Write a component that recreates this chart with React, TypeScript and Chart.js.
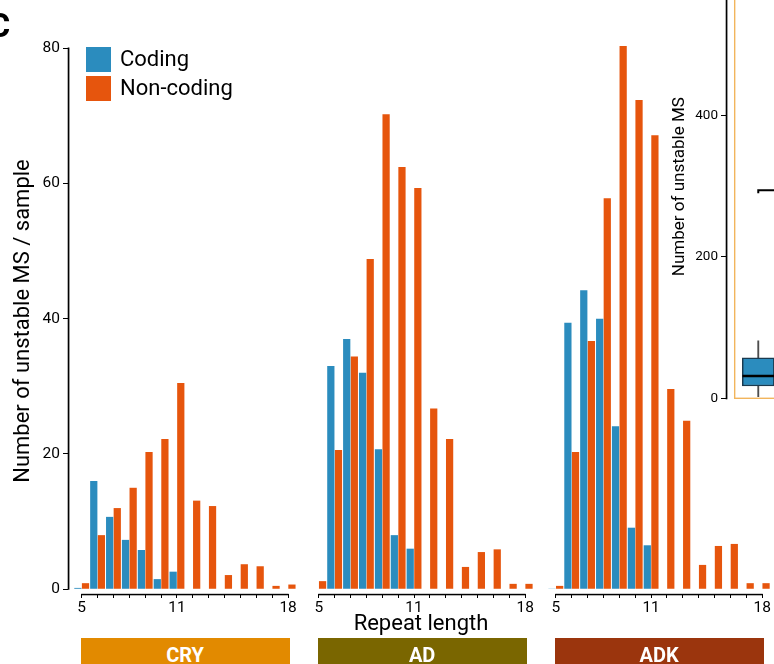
import React, { useEffect, useRef, useState } from 'react';
import { Chart, registerables } from 'chart.js';

Chart.register(...registerables);

// ---------------- data ----------------
const repeatLengths = [5, 6, 7, 8, 9, 10, 11, 12, 13, 14, 15, 16, 17, 18];
const labeledLengths = [5, 11, 18];
const panelNames = ['CRY', 'AD', 'ADK'];
const panelColors = ['#E28A00', '#7A6600', '#9B350D'];

const cryCoding = [0.2, 16.0, 10.7, 7.3, 5.8, 1.5, 2.6, 0, 0, 0, 0, 0, 0, 0];
const cryNonCoding = [0.9, 8.0, 12.0, 15.0, 20.3, 22.2, 30.5, 13.1, 12.3, 2.1, 3.7, 3.4, 0.5, 0.7];
const adCoding = [0, 33.0, 37.0, 32.0, 20.7, 8.0, 6.0, 0, 0, 0, 0, 0, 0, 0];
const adNonCoding = [1.2, 20.6, 34.4, 48.8, 70.2, 62.4, 59.3, 26.7, 22.2, 3.3, 5.5, 5.9, 0.8, 0.8];
const adkCoding = [0.1, 39.4, 44.2, 40.0, 24.1, 9.1, 6.5, 0, 0, 0, 0, 0, 0, 0];
const adkNonCoding = [0.5, 20.3, 36.7, 57.8, 80.3, 72.3, 67.1, 29.6, 24.9, 3.6, 6.4, 6.7, 0.9, 0.9];

const yTickValues = [0, 20, 40, 60, 80];

// inset (box plot of total unstable MS, first group visible)
const insetTickValues = [0, 200, 400];
const insetBoxCRY = [2.3, 17.4, 31.5, 57.0, 81.3]; // min, q1, median, q3, max
const insetBracketY = [289.6, 294];

// ---------------- style / layout ----------------
const W = 774;
const H = 664;
const FONT = 'Roboto, "Noto Sans", Arial, sans-serif';
const BLUE = '#2B8CBE';
const ORANGE = '#E6550D';
const PANEL_SPAN = 14.93;
const X_MIN = 4.137;
const X_MAX = 48.6;
const Y_MIN = -0.7;
const Y_MAX = 80;
const AXIS_W = 1.7;

const codingByPanel = [cryCoding, adCoding, adkCoding];
const nonCodingByPanel = [cryNonCoding, adNonCoding, adkNonCoding];

const toPoints = (byPanel: number[][]) =>
  byPanel.flatMap((vals, p) => vals.map((v, i) => ({ x: repeatLengths[i] + p * PANEL_SPAN, y: v })));

const panelTickValues = panelNames.flatMap((_, p) => repeatLengths.map((r) => r + p * PANEL_SPAN));

const panelOf = (v: number) => Math.floor((v - (repeatLengths[0] - 0.5)) / PANEL_SPAN);

const axisLinesPlugin = {
  id: 'axisLines',
  afterDraw(chart: any) {
    const { ctx, chartArea, scales } = chart;
    const x = scales.x;
    const y = scales.y;
    ctx.save();
    ctx.fillStyle = '#000';
    // y axis line (from 0 to 80 only)
    const ax = Math.round(chartArea.left);
    const y0 = y.getPixelForValue(yTickValues[0]);
    const y1 = y.getPixelForValue(yTickValues[yTickValues.length - 1]);
    ctx.fillRect(ax - 0.3, y1 - 0.5, AXIS_W, y0 - y1 + 1);
    // x axis segments (one per panel)
    const by = Math.round(chartArea.bottom);
    panelNames.forEach((_, p) => {
      const a = x.getPixelForValue(repeatLengths[0] + p * PANEL_SPAN) - 0.5;
      const b = x.getPixelForValue(repeatLengths[repeatLengths.length - 1] + p * PANEL_SPAN) + 0.5;
      ctx.fillRect(a, by - 0.2, b - a, 1.5);
    });
    ctx.restore();
  },
};

const insetPanelPlugin = {
  id: 'insetPanel',
  beforeDatasetsDraw(chart: any) {
    const { ctx, chartArea, scales } = chart;
    const x = scales.x;
    const y = scales.y;
    ctx.save();
    ctx.strokeStyle = '#F2B55C';
    ctx.lineWidth = 1.4;
    const l = x.getPixelForValue(0.5);
    const r = x.getPixelForValue(3.5);
    const b = y.getPixelForValue(0);
    ctx.strokeRect(l, chartArea.top - 30, r - l, b - chartArea.top + 30);
    ctx.restore();
  },
  afterDraw(chart: any) {
    const { ctx, chartArea } = chart;
    ctx.save();
    ctx.fillStyle = '#000';
    ctx.fillRect(Math.round(chartArea.left) - 0.3, chartArea.top, AXIS_W, chartArea.bottom - chartArea.top + 1);
    ctx.restore();
  },
};

export default function App() {
  const mainRef = useRef<HTMLCanvasElement | null>(null);
  const insetRef = useRef<HTMLCanvasElement | null>(null);
  const [strips, setStrips] = useState<any[]>([]);

  useEffect(() => {
    if (!mainRef.current || !insetRef.current) return;

    const main = new Chart(mainRef.current, {
      type: 'bar',
      data: {
        datasets: [
          {
            label: 'Coding',
            data: toPoints(codingByPanel),
            backgroundColor: BLUE,
            categoryPercentage: 0.96,
            barPercentage: 0.95,
            clip: false,
          } as any,
          {
            label: 'Non-coding',
            data: toPoints(nonCodingByPanel),
            backgroundColor: ORANGE,
            categoryPercentage: 0.96,
            barPercentage: 0.95,
            clip: false,
          } as any,
        ],
      },
      options: {
        responsive: false,
        animation: false,
        devicePixelRatio: 1,
        layout: { padding: { top: 48, left: 0, right: 0, bottom: 0 } },
        plugins: { legend: { display: false }, tooltip: { enabled: false } },
        scales: {
          x: {
            type: 'linear',
            offset: false,
            min: X_MIN,
            max: X_MAX,
            afterFit: (s: any) => {
              s.height = 70;
            },
            afterBuildTicks: (s: any) => {
              s.ticks = panelTickValues.map((v) => ({ value: v }));
            },
            ticks: {
              autoSkip: false,
              maxRotation: 0,
              minRotation: 0,
              padding: 1,
              color: '#000',
              font: { family: FONT, size: 15.5 },
              callback: (v: any) => {
                const p = panelOf(v);
                const r = Math.round(v - p * PANEL_SPAN);
                return labeledLengths.includes(r) ? String(r) : '';
              },
            },
            grid: {
              display: true,
              offset: false,
              drawOnChartArea: false,
              drawTicks: true,
              tickLength: 4,
              color: '#000',
              tickColor: '#000',
              lineWidth: 1,
            },
            border: { display: false },
            title: {
              display: true,
              text: 'Repeat length',
              color: '#000',
              font: { family: FONT, size: 22 },
              padding: { top: 0, bottom: 26 },
            },
          } as any,
          y: {
            min: Y_MIN,
            max: Y_MAX,
            afterFit: (s: any) => {
              s.width = 68;
            },
            afterBuildTicks: (s: any) => {
              s.ticks = yTickValues.map((v) => ({ value: v }));
            },
            ticks: {
              padding: 3,
              color: '#000',
              font: { family: FONT, size: 15.5 },
              callback: (v: any) => String(v),
            },
            grid: {
              display: true,
              drawOnChartArea: false,
              drawTicks: true,
              tickLength: 5,
              color: '#000',
              tickColor: '#000',
              lineWidth: 1,
            },
            border: { display: false },
            title: {
              display: true,
              text: 'Number of unstable MS / sample',
              color: '#000',
              font: { family: FONT, size: 22 },
              padding: { top: 10, bottom: 0 },
            },
          } as any,
        },
      },
      plugins: [axisLinesPlugin],
    });

    const xs: any = main.scales.x;
    setStrips(
      panelNames.map((name, p) => {
        const a = xs.getPixelForValue(repeatLengths[0] + p * PANEL_SPAN) - 1.2;
        const b = xs.getPixelForValue(repeatLengths[repeatLengths.length - 1] + p * PANEL_SPAN) + 1.5;
        return { name, left: a, width: b - a, color: panelColors[p] };
      })
    );

    const box = insetBoxCRY;
    const inset = new Chart(insetRef.current, {
      type: 'bar',
      data: {
        datasets: [
          {
            label: 'whiskers',
            data: [
              { x: 1, y: [box[0], box[1]] },
              { x: 1, y: [box[3], box[4]] },
            ],
            backgroundColor: '#4d4d4d',
            barThickness: 1.2,
            grouped: false,
            order: 3,
          } as any,
          {
            label: 'box',
            data: [{ x: 1, y: [box[1], box[3]] }],
            backgroundColor: BLUE,
            borderColor: '#1A3A4F',
            borderWidth: 1.5,
            borderSkipped: false,
            barThickness: 32,
            grouped: false,
            order: 2,
          } as any,
          {
            label: 'median',
            data: [{ x: 1, y: [box[2] - 1.4, box[2] + 1.4] }],
            backgroundColor: '#000',
            barThickness: 31,
            grouped: false,
            order: 1,
          } as any,
          {
            type: 'line',
            label: 'bracket',
            data: [
              { x: 1, y: insetBracketY[0] },
              { x: 1, y: insetBracketY[1] },
              { x: 2, y: insetBracketY[1] },
            ],
            borderColor: '#000',
            borderWidth: 2,
            pointRadius: 0,
            order: 0,
          } as any,
        ],
      },
      options: {
        responsive: false,
        animation: false,
        devicePixelRatio: 1,
        layout: { padding: { top: 20, bottom: 11.7, left: 0, right: 0 } },
        plugins: { legend: { display: false }, tooltip: { enabled: false } },
        scales: {
          x: { type: 'linear', display: false, offset: false, grid: { offset: false }, min: 0.316, max: 3.58 } as any,
          y: {
            min: 0,
            max: 598,
            afterFit: (s: any) => {
              s.width = 126;
            },
            afterBuildTicks: (s: any) => {
              s.ticks = insetTickValues.map((v) => ({ value: v }));
            },
            ticks: {
              padding: 3,
              color: '#000',
              font: { family: FONT, size: 13.5 },
              callback: (v: any) => String(v),
            },
            grid: {
              display: true,
              drawOnChartArea: false,
              drawTicks: true,
              tickLength: 5,
              color: '#000',
              tickColor: '#000',
            },
            border: { display: false },
            title: {
              display: true,
              text: 'Number of unstable MS',
              color: '#000',
              font: { family: FONT, size: 17 },
              padding: { top: 70, bottom: 0 },
            },
          } as any,
        },
      },
      plugins: [insetPanelPlugin],
    });

    return () => {
      main.destroy();
      inset.destroy();
    };
  }, []);

  return (
    <div
      style={{
        position: 'fixed',
        left: 0,
        top: 0,
        width: W,
        height: H,
        overflow: 'hidden',
        background: '#fff',
        fontFamily: FONT,
      }}
    >
      <canvas ref={mainRef} width={W} height={H} style={{ position: 'absolute', left: 0, top: 0, width: W, height: H }} />
      <canvas
        ref={insetRef}
        width={280}
        height={455}
        style={{ position: 'absolute', left: 600, top: -45, width: 280, height: 455 }}
      />
      <div
        style={{
          position: 'absolute',
          left: -12,
          top: 7.5,
          fontSize: 34,
          lineHeight: '34px',
          fontWeight: 700,
          color: '#000',
        }}
      >
        C
      </div>
      {[
        { label: 'Coding', color: BLUE, top: 47 },
        { label: 'Non-coding', color: ORANGE, top: 76 },
      ].map((it) => (
        <div key={it.label}>
          <div style={{ position: 'absolute', left: 86, top: it.top, width: 25, height: 25, background: it.color }} />
          <div
            style={{
              position: 'absolute',
              left: 120,
              top: it.top - 1,
              height: 25,
              lineHeight: '25px',
              fontSize: 22,
              color: '#000',
              whiteSpace: 'nowrap',
            }}
          >
            {it.label}
          </div>
        </div>
      ))}
      {strips.map((s) => (
        <div
          key={s.name}
          style={{
            position: 'absolute',
            left: s.left,
            width: s.width,
            top: 638,
            height: 34,
            background: s.color,
            color: '#fff',
            fontWeight: 700,
            fontSize: 20,
            lineHeight: '34px',
            textAlign: 'center',
          }}
        >
          {s.name}
        </div>
      ))}
    </div>
  );
}
